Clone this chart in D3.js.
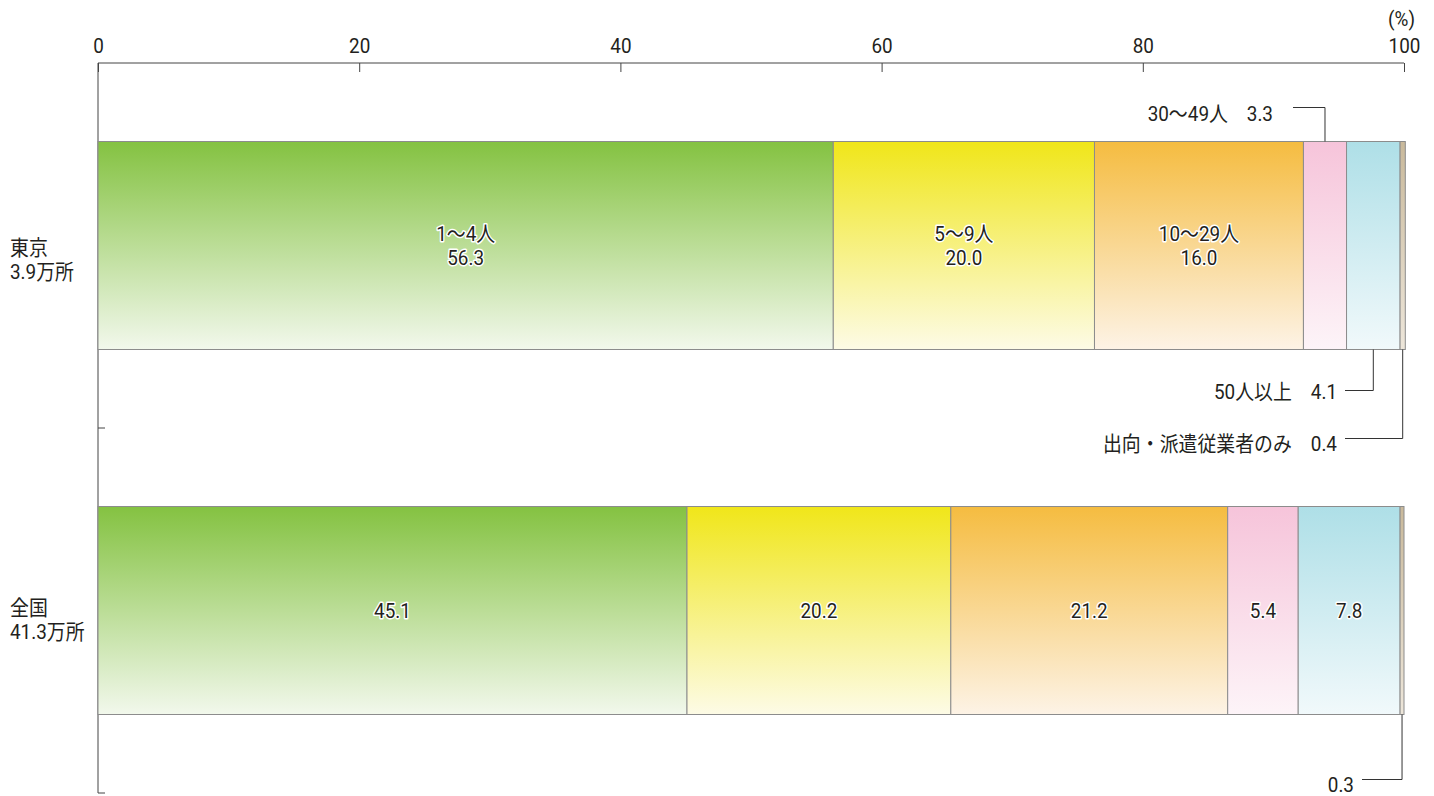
<!DOCTYPE html>
<meta charset="utf-8">
<title>事業所規模別構成比</title>
<style>
body { margin: 0; background: #fff; }
svg text {
  font-family: Roboto, "Noto Sans CJK JP", sans-serif;
  font-size: 21px;
  fill: #231f20;
}
.axis path, .axis line { stroke: #444; }
.seg { stroke: #8c8c8c; stroke-width: 1; }
.inlabel { paint-order: stroke; stroke: #fff; stroke-width: 3px; stroke-linejoin: round; }
.callout { fill: none; stroke: #333; stroke-width: 1; }
</style>
<svg width="1434" height="796"></svg>
<script src="https://d3js.org/d3.v7.min.js"></script>
<script>

// data
var regions = ["東京", "全国"];
var regionSub = ["3.9万所", "41.3万所"];
var sizes = ["1～4人", "5～9人", "10～29人", "30～49人", "50人以上", "出向・派遣従業者のみ"];
var tokyo = [56.3, 20.0, 16.0, 3.3, 4.1, 0.4];
var zenkoku = [45.1, 20.2, 21.2, 5.4, 7.8, 0.3];
var ticks = [0, 20, 40, 60, 80, 100];

var topColors = ["#84c241", "#f0e619", "#f5bc40", "#f6c4da", "#aedfe7", "#c9b99b"];
var botColors = ["#f2f8ec", "#fdfbe6", "#fdf3e6", "#fdf4f8", "#f1f9fb", "#ede6da"];

var svg = d3.select("svg");
var x = d3.scaleLinear().domain([0, 100]).range([98, 1404]);
var y = d3.scaleBand().domain(regions).range([63, 793]);
var barH = 208;
var SX = 0.9; // condensed look

function label(parent, tx, ty, str, anchor, cls) {
  return parent.append("text")
    .attr("class", cls || null)
    .attr("text-anchor", anchor || "start")
    .attr("transform", "translate(" + tx + "," + ty + ") scale(" + SX + ",1)")
    .text(str);
}

// gradients
var defs = svg.append("defs");
topColors.forEach(function(c, i) {
  var g = defs.append("linearGradient").attr("id", "g" + i)
    .attr("x1", 0).attr("y1", 0).attr("x2", 0).attr("y2", 1);
  g.append("stop").attr("offset", "0%").attr("stop-color", c);
  g.append("stop").attr("offset", "100%").attr("stop-color", botColors[i]);
});

// top axis
var ax = svg.append("g").attr("class", "axis")
  .attr("transform", "translate(0,63)")
  .call(d3.axisTop(x).tickValues(ticks).tickSize(-9).tickSizeOuter(0));
ax.select(".domain").remove();
ax.append("line").attr("x1", x(0)).attr("x2", x(100)).attr("stroke", "#444");
ax.selectAll(".tick text")
  .attr("y", 0).attr("dy", 0)
  .attr("transform", "translate(0,-10) scale(" + SX + ",1)")
  .style("font-size", "21px").style("fill", "#231f20").attr("font-family", null);
label(svg, 1415, 26, "(%)", "end");

// left axis
svg.append("line").attr("x1", 98).attr("x2", 98).attr("y1", 63).attr("y2", 793).attr("stroke", "#444");
regions.forEach(function(r) {
  var yy = y(r) + y.bandwidth();
  svg.append("line").attr("x1", 98).attr("x2", 105).attr("y1", yy).attr("y2", yy).attr("stroke", "#444");
});

// bars
var rows = [tokyo, zenkoku];
var regionDy = [9, 4];
rows.forEach(function(vals, ri) {
  var by = y(regions[ri]) + (y.bandwidth() - barH) / 2;
  var mid = by + barH / 2;
  var cum = 0;
  var segs = vals.map(function(v, i) { var s = { i: i, x0: cum, x1: cum + v, v: v }; cum += v; return s; });
  var g = svg.append("g");
  g.selectAll("rect").data(segs).enter().append("rect")
    .attr("class", "seg")
    .attr("x", function(d) { return x(d.x0); })
    .attr("y", by)
    .attr("width", function(d) { return x(d.x1) - x(d.x0); })
    .attr("height", barH)
    .attr("fill", function(d) { return "url(#g" + d.i + ")"; });

  var inner = ri === 0 ? segs.slice(0, 3) : segs.slice(0, 5);
  inner.forEach(function(d) {
    var cx = (x(d.x0) + x(d.x1)) / 2;
    if (ri === 0) {
      label(g, cx, mid - 5, sizes[d.i], "middle", "inlabel");
      label(g, cx, mid + 19, d.v.toFixed(1), "middle", "inlabel");
    } else {
      label(g, cx, mid + 7, d.v.toFixed(1), "middle", "inlabel");
    }
  });

  // region label
  label(svg, 10, mid + regionDy[ri], regions[ri]);
  label(svg, 10, mid + regionDy[ri] + 24, regionSub[ri]);

  // callouts
  function callout(d, ly, lx0, txt, above, tdy) {
    var cx = (x(d.x0) + x(d.x1)) / 2;
    var edge = above ? by : by + barH;
    svg.append("path").attr("class", "callout")
      .attr("d", "M" + lx0 + "," + ly + "H" + cx + "V" + edge);
    label(svg, lx0 - (above ? 20 : 8), ly + tdy, txt, "end");
  }
  if (ri === 0) {
    callout(segs[3], by - 34, 1293, sizes[3] + "　" + segs[3].v.toFixed(1), true, 13);
    callout(segs[4], by + barH + 41, 1345, sizes[4] + "　" + segs[4].v.toFixed(1), false, 8);
    callout(segs[5], by + barH + 89, 1345, sizes[5] + "　" + segs[5].v.toFixed(1), false, 12);
  } else {
    callout(segs[5], by + barH + 65, 1362, segs[5].v.toFixed(1), false, 12);
  }
});
</script>
